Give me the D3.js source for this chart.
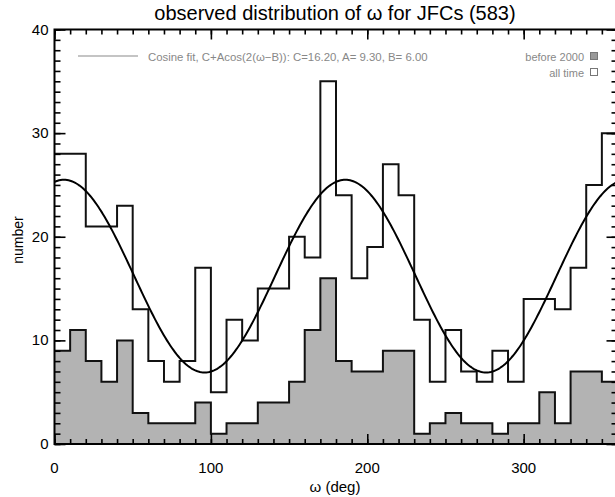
<!DOCTYPE html>
<html><head><meta charset="utf-8">
<script src="https://cdn.jsdelivr.net/npm/d3@7"></script>
<style>
body{margin:0;background:#fff}
svg{display:block}
text{font-family:"Liberation Sans",Arial,sans-serif}
</style>
</head><body>
<svg id="c" width="615" height="497"></svg>
<script>
// ---- data ----
const binStarts = [0,10,20,30,40,50,60,70,80,90,100,110,120,130,140,150,160,170,180,190,200,210,220,230,240,250,260,270,280,290,300,310,320,330,340,350];
const binWidth = 10;
const allTime = [28,28,21,21,23,13,8,6,8,17,5,12,10,15,15,20,18,35,24,16,19,27,24,12,6,11,7,6,9,6,14,14,13,17,25,30];
const before2000 = [9,11,8,6,10,3,2,2,2,4,1,2,2,4,4,6,11,16,8,7,7,9,9,1,2,3,2,2,1,2,2,5,2,7,7,6];
const fitC = 16.2, fitA = 9.3, fitB = 6.0;
const xTickLabels = [0,100,200,300];
const yTickLabels = [0,10,20,30,40];
const titleText = "observed distribution of \u03c9 for JFCs (583)";
const xLabel = "\u03c9 (deg)";
const yLabel = "number";
const fitLabel = "Cosine fit, C+Acos(2(\u03c9\u2212B)): C=16.20, A= 9.30, B= 6.00";
const legendLabels = ["before 2000","all time"];

// ---- layout ----
const L = 54.5, R = 617.5, T = 29.5, B = 444;
const svg = d3.select("#c");
const x = d3.scaleLinear().domain([0,360]).range([L,R]);
const y = d3.scaleLinear().domain([0,40]).range([B,T]);

svg.append("defs").append("clipPath").attr("id","clip")
  .append("rect").attr("x",L).attr("y",T).attr("width",R-L).attr("height",B-T);

function stepPts(vals){
  const p = binStarts.map((s,i)=>[s, vals[i]]);
  p.push([binStarts[binStarts.length-1]+binWidth, vals[vals.length-1]]);
  return p;
}
const g = svg.append("g").attr("clip-path","url(#clip)");
const area = d3.area().curve(d3.curveStepAfter).x(d=>x(d[0])).y0(y(0)).y1(d=>y(d[1]));
const line = d3.line().curve(d3.curveStepAfter).x(d=>x(d[0])).y(d=>y(d[1]));

const pa = stepPts(allTime), pb = stepPts(before2000);
g.append("path").attr("d",area(pa)).attr("fill","#fff");
g.append("path").attr("d",line(pa)).attr("fill","none").attr("stroke","#111").attr("stroke-width",2);
g.append("path").attr("d",area(pb)).attr("fill","#b3b3b3");
g.append("path").attr("d",line(pb)).attr("fill","none").attr("stroke","#111").attr("stroke-width",2);

// fit curve (model evaluated from fit parameters)
const ws = d3.range(0,360.5,1);
const fit = d3.line().x(w=>x(w)).y(w=>y(fitC + fitA*Math.cos(2*(w-fitB)*Math.PI/180)));
g.append("path").attr("d",fit(ws)).attr("fill","none").attr("stroke","#000").attr("stroke-width",2);

// ---- axes ----
function styleAxis(sel){
  sel.select(".domain").remove();
  sel.selectAll(".tick line").attr("stroke","#000").attr("stroke-width",1.6);
}
const xMinor = d3.range(0,361,10), xMajor = d3.range(0,361,100);
const yMinor = d3.range(0,41,1), yMajor = d3.range(0,41,10);
svg.append("g").attr("transform",`translate(0,${B})`).call(d3.axisBottom(x).tickValues(xMinor).tickSize(-5).tickFormat("")).call(styleAxis);
svg.append("g").attr("transform",`translate(0,${B})`).call(d3.axisBottom(x).tickValues(xMajor).tickSize(-10).tickFormat("")).call(styleAxis);
svg.append("g").attr("transform",`translate(0,${T})`).call(d3.axisTop(x).tickValues(xMinor).tickSize(-5).tickFormat("")).call(styleAxis);
svg.append("g").attr("transform",`translate(0,${T})`).call(d3.axisTop(x).tickValues(xMajor).tickSize(-10).tickFormat("")).call(styleAxis);
svg.append("g").attr("transform",`translate(${L},0)`).call(d3.axisLeft(y).tickValues(yMinor).tickSize(-6).tickFormat("")).call(styleAxis);
svg.append("g").attr("transform",`translate(${L},0)`).call(d3.axisLeft(y).tickValues(yMajor).tickSize(-11).tickFormat("")).call(styleAxis);
svg.append("g").attr("transform",`translate(${R},0)`).call(d3.axisRight(y).tickValues(yMinor).tickSize(-6).tickFormat("")).call(styleAxis);
svg.append("g").attr("transform",`translate(${R},0)`).call(d3.axisRight(y).tickValues(yMajor).tickSize(-11).tickFormat("")).call(styleAxis);

svg.append("rect").attr("x",L).attr("y",T).attr("width",R-L).attr("height",B-T)
  .attr("fill","none").attr("stroke","#000").attr("stroke-width",2);

// tick labels
svg.append("g").selectAll("text").data(xTickLabels).join("text")
  .attr("x",d=>x(d)).attr("y",B+29).attr("text-anchor","middle")
  .attr("font-size",15).text(d=>d);
svg.append("g").selectAll("text").data(yTickLabels).join("text")
  .attr("x",L-6).attr("y",d=>y(d)+5).attr("text-anchor","end")
  .attr("font-size",15).text(d=>d);

// titles
svg.append("text").attr("x",335).attr("y",20).attr("text-anchor","middle").attr("font-size",20).text(titleText);
svg.append("text").attr("x",335).attr("y",492).attr("text-anchor","middle").attr("font-size",15).text(xLabel);
svg.append("text").attr("transform","translate(23,240) rotate(-90)").attr("text-anchor","middle").attr("font-size",14).text(yLabel);

// legend
svg.append("line").attr("x1",78).attr("x2",138).attr("y1",56).attr("y2",56).attr("stroke","#c4c4c4").attr("stroke-width",2);
svg.append("text").attr("x",148).attr("y",61).attr("font-size",11.4).attr("fill","#888").text(fitLabel);
svg.append("text").attr("x",584).attr("y",61).attr("text-anchor","end").attr("font-size",11).attr("fill","#888").text(legendLabels[0]);
svg.append("text").attr("x",584).attr("y",77).attr("text-anchor","end").attr("font-size",11).attr("fill","#888").text(legendLabels[1]);
svg.append("rect").attr("x",590.5).attr("y",52.5).attr("width",7).attr("height",7).attr("fill","#999").attr("stroke","#777").attr("stroke-width",1);
svg.append("rect").attr("x",590.5).attr("y",68.5).attr("width",7).attr("height",7).attr("fill","#fff").attr("stroke","#777").attr("stroke-width",1);
</script>
</body></html>
